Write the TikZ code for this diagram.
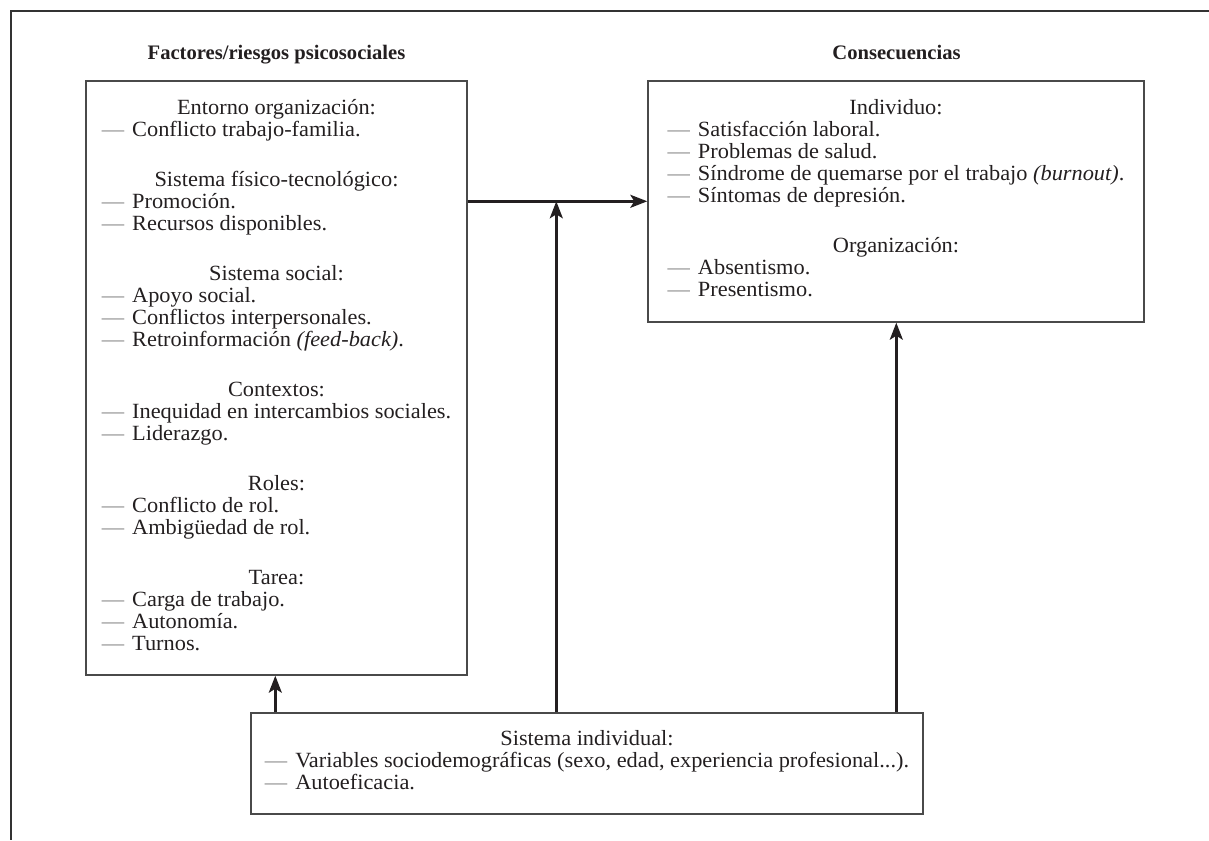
\documentclass[tikz,border=0pt]{standalone}
\usepackage{fontspec}
\setmainfont{Liberation Serif}[FakeStretch=1.03]
\newfontfamily\titlefont{Liberation Serif}
\usetikzlibrary{arrows.meta}
\definecolor{ink}{HTML}{231F20}
\definecolor{boxc}{HTML}{4A4A4A}
\definecolor{dashc}{HTML}{8A8A8A}
\definecolor{framec}{HTML}{333333}
\newcommand\bodyfont{\fontsize{21.7}{22}\selectfont}
\newcommand\boxhead[1]{\multicolumn{1}{c}{#1}}
\newcommand\lineitem[1]{{\color{dashc}—}\hspace{8pt}#1}
\begin{document}
\begin{tikzpicture}[x=1pt,y=-1pt,
  box/.style={draw=boxc, line width=1.4pt, inner sep=0pt, text=ink, font=\bodyfont},
  conn/.style={draw=ink, line width=2.6pt, -{Stealth[length=17pt,width=13pt,inset=4pt]}},
  ttl/.style={anchor=base, text=ink, font=\titlefont\fontsize{20.6}{24}\selectfont\bfseries},
  frame/.style={draw=framec, line width=2.6pt, line join=miter}]
\useasboundingbox (0,0) rectangle (1209,840);
\draw[frame] (1209,11) -- (11,11) -- (11,840);

\node[ttl] (t1) at (276.5,60) {Factores/riesgos psicosociales};
\node[ttl] (t2) at (896.5,60) {Consecuencias};

\node[box, minimum width=381pt, minimum height=594pt] (L) at (276.5,378) {%
\begin{tabular}{@{}l@{}}
\boxhead{Entorno organización:}\\
\lineitem{Conflicto trabajo-familia.}\\[28pt]
\boxhead{Sistema físico-tecnológico:}\\
\lineitem{Promoción.}\\
\lineitem{Recursos disponibles.}\\[28pt]
\boxhead{Sistema social:}\\
\lineitem{Apoyo social.}\\
\lineitem{Conflictos interpersonales.}\\
\lineitem{Retroinformación \textit{(feed-back)}.}\\[28pt]
\boxhead{Contextos:}\\
\lineitem{Inequidad en intercambios sociales.}\\
\lineitem{Liderazgo.}\\[28pt]
\boxhead{Roles:}\\
\lineitem{Conflicto de rol.}\\
\lineitem{Ambigüedad de rol.}\\[28pt]
\boxhead{Tarea:}\\
\lineitem{Carga de trabajo.}\\
\lineitem{Autonomía.}\\
\lineitem{Turnos.}
\end{tabular}};

\node[box, minimum width=496pt, minimum height=241pt] (R) at (896,201.5) {%
\begin{tabular}{@{}l@{}}
\boxhead{Individuo:}\\
\lineitem{Satisfacción laboral.}\\
\lineitem{Problemas de salud.}\\
\lineitem{Síndrome de quemarse por el trabajo \textit{(burnout)}.}\\
\lineitem{Síntomas de depresión.}\\[28pt]
\boxhead{Organización:}\\
\lineitem{Absentismo.}\\
\lineitem{Presentismo.}
\end{tabular}};

\node[box, minimum width=672pt, minimum height=101pt] (B) at (587,763.5) {%
\begin{tabular}{@{}l@{}}
\boxhead{Sistema individual:}\\
\lineitem{Variables sociodemográficas (sexo, edad, experiencia profesional...).}\\
\lineitem{Autoeficacia.}
\end{tabular}};

\coordinate (h1) at ([yshift=-121pt]L.north east);
\coordinate (s1) at ([xshift=25pt]B.north west);
\coordinate (s2) at ([xshift=306pt]B.north west);
\coordinate (s3) at ([xshift=646pt]B.north west);

\draw[conn] (h1) -- (h1 -| R.west);
\draw[conn] (s1) -- (s1 |- L.south);
\draw[conn] (s2) -- (s2 |- h1);
\draw[conn] (s3) -- (s3 |- R.south);
\end{tikzpicture}
\end{document}
